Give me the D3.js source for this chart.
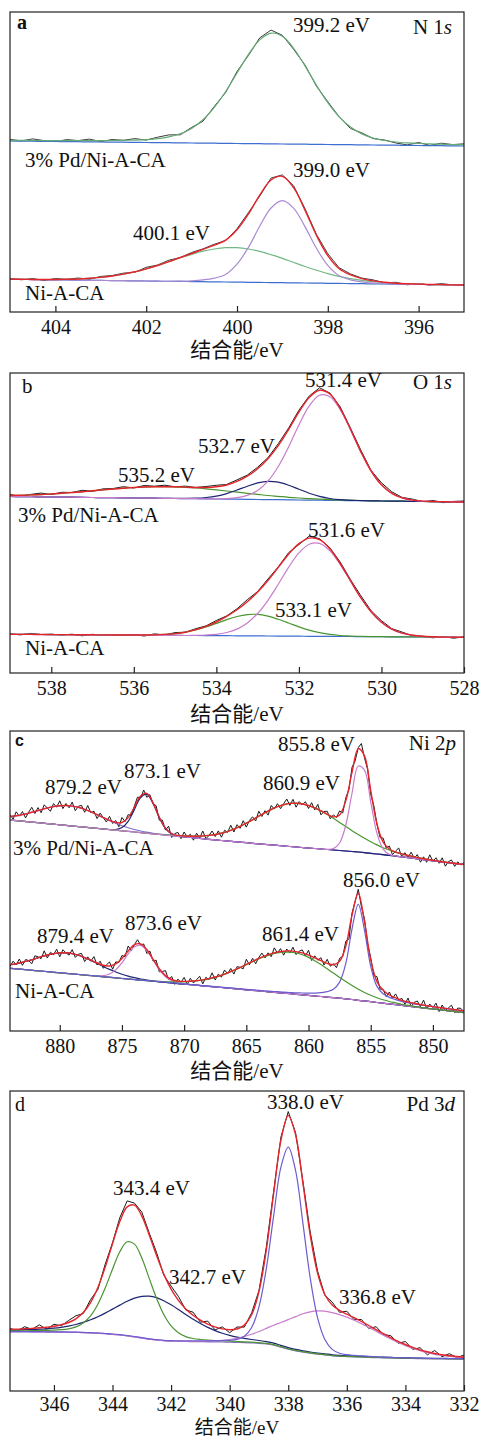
<!DOCTYPE html>
<html>
<head>
<meta charset="utf-8">
<script src="https://cdn.jsdelivr.net/npm/d3@7"></script>
<style>
  body { margin: 0; background: #fff; }
  svg { display: block; }
  text { font-family: "Liberation Serif", "Times New Roman", "Noto Sans CJK SC", serif; fill: #111; }
</style>
</head>
<body>
<svg id="chart" width="483" height="1438"></svg>
<script>
// ---------------- N 1s (0.25 eV steps, 405 -> 395 eV) ----------------
const nE = d3.range(41).map(i => 405 - i * 0.25);
const nTicks = [404, 402, 400, 398, 396];
const nPdPeaks = [399.2];
const nNiPeaks = [399.0, 400.1];
const nPdBg = [171.0,170.9,170.8,170.6,170.5,170.4,170.3,170.1,170.0,169.9,169.8,169.6,169.5,169.4,169.3,169.1,169.0,168.9,168.8,168.6,168.5,168.4,168.3,168.1,168.0,167.9,167.8,167.6,167.5,167.4,167.3,167.1,167.0,166.9,166.8,166.6,166.5,166.4,166.3,166.1,166.0];
const nPd399 = [0.6,0.7,0.8,0.8,0.9,1.0,1.1,1.3,1.4,1.6,1.9,2.3,2.9,3.9,5.8,9.1,14.6,23.3,35.8,51.9,70.5,89.0,103.8,110.8,107.7,95.6,78.1,59.2,41.8,27.8,17.7,11.0,6.9,4.6,3.2,2.5,2.0,1.7,1.5,1.3,1.2];
const nPdRaw = [172.6,171.1,173.1,171.4,170.4,172.4,171.4,172.9,170.4,172.5,171.7,173.4,171.9,174.8,177.1,177.2,184.6,190.7,205.6,219.5,240.5,256.4,274.1,281.9,276.7,262.5,246.9,225.8,210.3,195.2,183.5,179.1,173.4,172.0,169.0,167.1,169.5,166.6,168.8,167.4,168.2];
const nNiBg = [32.7,32.6,32.4,32.3,32.1,32.0,31.8,31.7,31.6,31.4,31.3,31.1,31.0,30.8,30.7,30.6,30.4,30.3,30.1,30.0,29.9,29.7,29.6,29.4,29.3,29.1,29.0,28.9,28.7,28.6,28.4,28.3,28.1,28.0,27.9,27.7,27.6,27.4,27.3,27.1,27.0];
const nNi399 = [0,0,0,0,0,0,0,0,0,0,0,0,0,0,0,0.3,0.8,1.8,3.8,7.6,17.9,34.8,56.1,74.6,82,74.6,56.1,34.8,17.9,7.6,3.8,1.8,0.8,0.3,0,0,0,0,0,0,0];
const nNi400 = [0,0.1,0.1,0.2,0.4,0.7,1.2,2.0,3.0,4.6,6.6,9.1,12.2,15.7,19.6,23.6,27.3,30.5,32.9,34.3,34.4,33.3,31.1,28.0,24.3,20.4,16.5,12.9,9.7,7.0,4.9,3.3,2.2,1.4,0.8,0.5,0.3,0.1,0.1,0,0];
const nNiRaw = [33.7,32.2,33.5,31.5,33.5,32.7,34.0,32.7,35.6,36.5,38.9,39.7,44.7,47.0,51.8,54.5,59.5,63.1,67.8,71.4,83.2,99.3,115.8,134.0,137.1,126.1,103.1,77.6,58.3,44.2,38.1,33.9,32.1,29.2,29.7,27.2,28.4,27.0,28.4,27.1,27.5];

// ---------------- O 1s (0.25 eV steps, 539 -> 528 eV) ----------------
const oE = d3.range(45).map(i => 539 - i * 0.25);
const oTicks = [538, 536, 534, 532, 530, 528];
const oPdPeaks = [531.4, 532.7, 535.2];
const oNiPeaks = [531.6, 533.1];
const oPdBg = [176.5,176.4,176.3,176.1,176.0,175.9,175.8,175.6,175.5,175.4,175.3,175.1,175.0,174.9,174.8,174.6,174.5,174.4,174.3,174.1,174.0,173.9,173.8,173.6,173.5,173.4,173.3,173.1,173.0,172.9,172.8,172.6,172.5,172.4,172.3,172.1,172.0,171.9,171.8,171.6,171.5,171.4,171.3,171.1,171.0];
const oPd531 = [0,0,0,0,0,0,0,0,0,0,0,0,0,0,0,0,0,0,0,0,0.2,0.5,1.5,4.0,9.1,18.5,33.2,53,75.0,94.2,105.0,103.7,90.9,70.7,48.8,29.8,16.2,7.8,3.3,1.3,0.4,0.1,0,0,0];
const oPd532 = [0,0,0,0,0,0,0,0,0,0,0,0,0,0,0,0,0.1,0.2,0.5,1.4,2.9,5.5,9.2,13.2,16.6,18.3,17.5,14.7,10.8,6.9,3.8,1.9,0.8,0.3,0.1,0,0,0,0,0,0,0,0,0,0];
const oPd535 = [1.0,1.3,1.8,2.3,3.0,3.8,4.7,5.6,6.7,7.7,8.7,9.7,10.5,11.1,11.5,11.7,11.6,11.3,10.7,10.0,9.1,8.1,7.1,6.1,5.1,4.1,3.3,2.6,2.0,1.5,1.1,0.8,0.5,0.4,0.2,0.1,0,0,0,0,0,0,0,0,0];
const oPdRaw = [178.5,176.7,178.6,179.9,178.5,180.7,180.5,182.7,181.7,184.1,184.5,186.3,185.0,187.5,186.8,187.8,186.2,186.9,185.5,186.5,187.7,188.5,193.1,197.9,205.8,215.3,229.3,244.9,262.8,277.0,285.2,280.0,266.2,244.8,222.9,202.5,190.2,181.2,175.6,173.9,171.4,172.5,170.3,171.6,172.0];
const oNiBg = [38.7,38.6,38.6,38.5,38.4,38.4,38.3,38.2,38.2,38.1,38.0,38.0,37.9,37.8,37.7,37.7,37.6,37.5,37.5,37.4,37.3,37.3,37.2,37.1,37.1,37.0,36.9,36.9,36.8,36.7,36.7,36.6,36.5,36.5,36.4,36.3,36.3,36.2,36.1,36.1,36.0,35.9,35.8,35.8,35.7];
const oNi531 = [0,0,0,0,0,0,0,0,0,0,0,0,0,0,0,0,0,0,0.2,0.6,1.4,3.2,6.7,12.9,22.4,35.7,51.9,68.8,83.3,92.1,92.9,85.6,72.0,55.3,38.7,24.8,14.5,7.7,3.8,1.7,0.7,0.3,0.1,0,0];
const oNi533 = [0,0,0,0,0,0,0,0,0,0,0,0,0.1,0.2,0.4,0.9,1.8,3.3,5.6,8.6,12.3,16.1,19.3,21.3,21.5,19.8,16.8,13.1,9.3,6.1,3.7,2.0,1.0,0.5,0.2,0.1,0,0,0,0,0,0,0,0,0];
const oNiRaw = [39.2,38.1,39.6,38.5,38.9,37.9,38.8,37.2,38.7,37.6,38.5,37.5,38.5,37.0,39.1,38.1,40.4,40.8,44.3,47.1,52.5,57.1,64.2,73.3,81.5,94.0,106.1,120.3,128.4,136.9,134.3,125.2,111.0,93.3,77.3,62.2,52.3,44.4,40.9,37.3,36.7,35.2,36.4,34.8,36.2];

// ---------------- Ni 2p (fit: 0.5 eV steps, raw: 0.25 eV steps, 884 -> 847.5 eV) ----------------
const niE = d3.range(74).map(i => 884 - i * 0.5);
const niRawE = d3.range(147).map(i => 884 - i * 0.25);
const niTicks = [880, 875, 870, 865, 860, 855, 850];
const niPdPeaks = [855.8, 860.9, 873.1, 879.2];
const niNiPeaks = [856.0, 861.4, 873.6, 879.4];
const niPdBg = [211.0,210.4,209.8,209.2,208.6,208.0,207.4,206.8,206.2,205.6,205.0,204.4,203.8,203.2,202.6,202.0,201.4,200.8,200.2,199.6,199.0,198.4,197.8,197.1,196.5,195.9,195.3,194.7,194.1,193.5,192.9,192.3,191.7,191.1,190.5,189.9,189.4,188.8,188.3,187.7,187.2,186.6,186.1,185.6,185.0,184.5,184.0,183.5,183.0,182.5,182.0,181.5,181.0,180.5,180.0,179.5,179.0,178.4,177.7,177.0,176.3,175.6,174.9,174.2,173.4,172.6,171.8,171.0,170.2,169.4,168.6,167.9,167.2,166.5];
const niPd879 = [3.4,4.8,6.6,8.6,10.9,13.3,15.6,17.6,19.0,19.9,19.9,19.3,17.9,16.0,13.8,11.4,9.1,7.0,5.1,3.7,2.5,1.6,1.0,0.6,0.4,0.2,0.1,0,0,0,0,0,0,0,0,0,0,0,0,0,0,0,0,0,0,0,0,0,0,0,0,0,0,0,0,0,0,0,0,0,0,0,0,0,0,0,0,0,0,0,0,0,0,0];
const niPd873 = [0,0,0,0,0,0,0,0,0,0,0,0,0,0,0,0,0.1,0.7,3.2,10.1,22.4,35.1,38.9,30.5,16.9,6.6,1.8,0.4,0.1,0,0,0,0,0,0,0,0,0,0,0,0,0,0,0,0,0,0,0,0,0,0,0,0,0,0,0,0,0,0,0,0,0,0,0,0,0,0,0,0,0,0,0,0,0];
const niPd861 = [0,0,0,0,0,0,0,0,0,0,0,0,0,0,0,0,0,0,0,0,0,0,0,0,0.1,0.2,0.3,0.5,0.8,1.3,1.9,2.7,3.9,5.4,7.3,9.7,12.6,15.9,19.6,23.5,27.6,31.7,35.4,38.7,41.3,43.1,43.8,43.5,42.5,40.6,38.1,35.1,31.7,28.1,24.4,20.8,17.4,14.3,11.5,9.1,7.0,5.4,4.0,2.9,2.1,1.5,1.0,0.7,0.5,0.3,0.2,0.1,0,0];
const niPd856 = [0,0,0,0,0,0,0,0,0,0,0,0,0,0,0,0,0,0,0,0,0,0,0,0,0,0,0,0,0,0,0,0,0,0,0,0,0,0,0,0,0,0,0,0,0,0,0,0,0,0,0,0.2,1.4,7.5,26.0,58.5,86.0,82.4,51.5,20.9,5.6,1.0,0.1,0,0,0,0,0,0,0,0,0,0,0];
const niPdRaw = [216.4,211.8,219.2,214.8,219.4,213.1,218.8,223.7,217.5,223.4,
  218.3,226.2,223.0,219.7,227.4,223.8,230.2,222.4,227.5,223.2,
  228.9,220.3,224.7,225.7,218.7,225.5,218.2,219.8,212.4,217.9,
  213.4,209.0,214.6,207.5,210.5,204.2,213.5,209.5,216.4,215.3,
  224.9,233.9,233.1,241.0,233.7,236.3,227.2,225.3,210.9,210.9,
  200.9,204.8,193.5,197.4,198.6,192.3,199.0,193.9,196.8,190.8,
  197.8,192.9,200.0,192.3,195.6,200.0,194.5,200.1,193.8,200.7,
  198.6,205.8,199.0,206.3,202.7,210.3,203.9,210.5,214.2,210.0,
  219.8,214.5,220.3,215.9,225.5,221.9,227.3,222.3,227.3,232.0,
  225.6,231.7,223.8,229.4,226.0,229.3,222.5,228.3,221.1,226.6,
  216.1,219.5,219.8,212.3,216.1,213.6,220.1,218.0,233.4,241.4,
  263.8,270.1,283.4,287.5,273.1,261.7,236.7,225.3,207.0,193.5,
  192.9,182.8,185.0,176.3,180.0,183.0,174.1,178.3,173.5,178.8,
  173.1,176.4,168.8,174.2,168.7,176.2,169.7,173.2,167.7,173.2,
  164.8,169.4,171.0,164.6,169.2,165.9,168.5];
const niNiBg = [62.7,62.1,61.6,61.0,60.4,59.9,59.3,58.7,58.2,57.6,57.1,56.5,55.9,55.4,54.8,54.2,53.7,53.1,52.5,52.0,51.4,50.8,50.3,49.7,49.1,48.6,48.0,47.4,46.9,46.3,45.8,45.2,44.6,44.1,43.5,42.9,42.4,41.8,41.2,40.7,40.1,39.5,39.0,38.4,37.8,37.3,36.7,36.2,35.6,35.0,34.5,33.9,33.3,32.8,32.2,31.5,30.7,30.0,29.3,28.5,27.8,27.1,26.4,25.6,24.9,24.2,23.4,22.7,22.0,21.3,20.5,19.8,19.1,18.3];
const niNi879 = [3.6,5.1,7.0,9.3,11.7,14.3,16.6,18.5,19.9,20.5,20.2,19.2,17.4,15.2,12.8,10.3,7.9,5.9,4.2,2.8,1.9,1.2,0.7,0.4,0.2,0.1,0,0,0,0,0,0,0,0,0,0,0,0,0,0,0,0,0,0,0,0,0,0,0,0,0,0,0,0,0,0,0,0,0,0,0,0,0,0,0,0,0,0,0,0,0,0,0,0];
const niNi874 = [0,0,0,0,0,0,0,0,0,0,0,0,0,0.1,0.3,1.1,3.3,8.0,15.7,25.1,32.8,34.9,30.2,21.3,12.2,5.7,2.2,0.7,0.2,0,0,0,0,0,0,0,0,0,0,0,0,0,0,0,0,0,0,0,0,0,0,0,0,0,0,0,0,0,0,0,0,0,0,0,0,0,0,0,0,0,0,0,0,0];
const niNi861 = [0,0,0,0,0,0,0,0,0,0,0,0,0,0,0,0,0,0,0,0,0.1,0.1,0.2,0.3,0.5,0.8,1.1,1.6,2.3,3.2,4.3,5.7,7.5,9.6,12.1,15.0,18.1,21.5,25.0,28.5,31.9,35.0,37.6,39.7,41.0,41.6,41.3,40.1,38.0,35.3,32.0,28.4,24.6,20.8,17.2,13.9,11.0,8.5,6.4,4.8,3.4,2.4,1.7,1.1,0.7,0.5,0.3,0.2,0.1,0,0,0,0,0];
const niNi856 = [0.1,0.1,0.1,0.1,0.1,0.1,0.1,0.1,0.1,0.1,0.1,0.1,0.1,0.1,0.1,0.1,0.1,0.1,0.1,0.1,0.1,0.1,0.1,0.1,0.2,0.2,0.2,0.2,0.2,0.2,0.2,0.2,0.3,0.3,0.3,0.3,0.4,0.4,0.5,0.5,0.6,0.6,0.7,0.9,1.0,1.2,1.4,1.8,2.2,2.9,3.8,5.4,8.4,16.1,35.5,70.7,96,70.7,35.5,16.1,9.5,6.5,5.0,4.0,3.4,3.0,2.7,2.5,2.3,2.2,2.1,2.0,1.9,1.8];
const niNiRaw = [64.4,69.8,66.3,72.0,65.7,71.5,70.4,67.3,75.2,74.2,
  72.3,80.2,73.0,78.7,76.3,81.8,74.2,81.3,78.2,75.9,
  81.4,73.6,76.8,77.6,69.4,74.1,69.8,74.4,66.0,69.8,
  62.7,66.1,69.0,61.8,69.1,68.5,75.5,74.2,85.0,80.5,
  86.3,91.3,86.1,87.0,77.5,79.9,69.8,70.8,59.2,59.5,
  60.4,51.2,54.5,46.6,51.9,48.7,53.6,46.6,52.7,48.0,
  51.3,54.7,47.1,53.7,51.4,58.2,51.0,56.9,53.9,61.0,
  57.2,62.5,56.9,64.3,63.7,62.2,71.7,66.2,72.7,67.2,
  73.6,77.9,73.1,78.2,74.3,83.2,78.0,82.4,75.8,82.0,
  78.1,83.8,76.4,79.8,81.1,75.0,80.8,70.5,75.2,70.8,
  73.3,66.0,71.7,64.8,67.3,63.3,72.7,74.5,89.9,92.0,
  118.1,129.7,141.7,124.4,112.2,87.6,73.2,55.3,54.4,42.0,
  41.7,34.3,39.0,32.5,37.1,30.9,32.7,26.8,33.0,24.3,
  28.7,30.0,24.4,30.9,22.4,26.9,23.4,27.9,19.5,26.0,
  20.6,23.2,25.8,18.4,23.0,22.6,19.1];

// ---------------- Pd 3d (0.25 eV steps, 347.5 -> 332 eV) ----------------
const pdE = d3.range(63).map(i => 347.5 - i * 0.25);
const pdTicks = [346, 344, 342, 340, 338, 336, 334, 332];
const pdPeaks = [338.0, 336.8, 343.4, 342.7];
const pdBg = [59.3,59.3,59.3,59.2,59.2,59.1,59.0,58.9,58.8,58.6,58.4,58.1,57.8,57.3,56.7,56.0,55.2,54.2,53.0,51.8,51.0,50.3,49.9,49.7,49.5,49.4,49.3,49.2,49.1,49.0,48.8,48.6,48.4,48.1,47.7,47.0,45.8,43.8,41.8,40.2,38.9,37.8,36.9,36.1,35.2,34.7,34.4,34.1,33.9,33.6,33.4,33.2,33.0,32.8,32.6,32.5,32.4,32.3,32.2,32.2,32.1,32.1,32.0];
const pd343 = [0.7,0.8,0.9,1.1,1.3,1.5,1.8,2.4,3.4,5.5,9.6,17.0,29.0,45.7,65.1,83.2,94.0,92.7,80.0,61.1,42.0,26.2,15.2,8.6,4.9,3.1,2.2,1.7,1.4,1.2,1.1,0.9,0.8,0.7,0.6,0.6,0.5,0.5,0.4,0.4,0.4,0.3,0.3,0.3,0.3,0.3,0.2,0.2,0.2,0.2,0.2,0.2,0.2,0.2,0.2,0.1,0.1,0.1,0.1,0.1,0.1,0.1,0.1];
const pd342 = [1.6,1.7,2.0,2.2,2.6,3.1,3.8,4.8,6.1,7.9,10.2,13.1,16.5,20.6,25.2,29.9,34.6,38.7,41.6,43.0,42.4,40.0,36.3,31.8,27.0,22.4,18.1,14.4,11.3,8.7,6.8,5.3,4.2,3.4,2.8,2.4,2.1,1.8,1.6,1.4,1.3,1.2,1.1,1.0,1.0,0.9,0.8,0.8,0.7,0.7,0.6,0.6,0.6,0.5,0.5,0.5,0.4,0.4,0.4,0.4,0.4,0.3,0.3];
const pd338 = [0.1,0.1,0.1,0.1,0.1,0.1,0.1,0.2,0.2,0.2,0.2,0.2,0.2,0.2,0.3,0.3,0.3,0.3,0.3,0.4,0.4,0.4,0.5,0.5,0.6,0.7,0.8,1.0,1.2,1.5,1.9,3.1,6.4,15.4,36.5,75.2,129.0,180.1,202,180.1,129.0,75.2,36.5,15.4,6.4,3.1,1.9,1.5,1.2,1.0,0.8,0.7,0.6,0.5,0.5,0.4,0.4,0.4,0.3,0.3,0.3,0.3,0.2];
const pd337 = [0,0,0,0,0,0,0,0,0,0,0,0,0,0,0,0,0,0,0,0,0,0,0,0,0.1,0.2,0.4,0.6,1.1,1.7,2.7,4.1,6.1,8.6,11.8,15.6,20.0,24.7,29.6,34.2,38.3,41.4,43.2,43.7,43.1,41.7,39.5,36.7,33.5,30.0,26.3,22.6,19.0,15.7,12.7,10.1,7.9,6.0,4.5,3.3,2.4,1.7,1.2];
const pdRaw = [62.7,59.9,64.3,61.6,66.2,61.8,66.7,65.2,70.5,75.2,
  77.4,91.4,101.5,126.8,148.3,173.4,190.1,187.9,178.9,158.3,
  138.8,115.9,104.9,94.6,81.1,78.8,68.8,69.9,61.1,64.1,
  58.3,64.0,63.9,78.2,100.4,143.8,199.4,253.9,279.4,258.3,
  209.9,158.9,120.0,95.5,89.0,78.7,79.8,71.3,71.5,62.5,
  64.3,56.3,55.4,47.7,49.5,41.6,43.3,36.2,40.5,34.3,
  37.3,33.6,35.8];

// ---------------- colours ----------------
const RED = "#e4262c", BLUE = "#3e6ed0", NAVY = "#1e2472", GREEN = "#4b9530",
      ORCHID = "#c87ccc", VIOLET = "#6c5ccf", LILAC = "#a98bd2", SEA = "#63aa74", RAW = "#1a1a1a";

const fmt = v => v.toFixed(1) + " eV";

// ---------------- panel layout ----------------
const panels = [
  {
    id: "a", top: 12, domain: [405, 395], ticks: nTicks, tickPad: 8, titleDy: 45, titleSize: 21,
    letter: { t: "a", x: 17, y: 29, size: 20, weight: "bold", family: null },
    core: ["N 1", "s"], coreX: 452, coreY: 34,
    spectra: [
      { E: nE, bg: nPdBg, bgColor: BLUE, comps: [{ v: nPd399, c: SEA }], envelope: false,
        rawE: nE, raw: nPdRaw, rawColor: "#3c3c3c" },
      { E: nE, bg: nNiBg, bgColor: BLUE, comps: [{ v: nNi400, c: "#72b884" }, { v: nNi399, c: LILAC }], envelope: true,
        rawE: nE, raw: nNiRaw, rawColor: "#3c3c3c" }
    ],
    peakLabels: [
      { v: nPdPeaks[0], x: 293, y: 32 },
      { v: nNiPeaks[0], x: 293, y: 177 },
      { v: nNiPeaks[1], x: 133, y: 240 }
    ],
    names: [{ t: "3% Pd/Ni-A-CA", x: 25, y: 167 }, { t: "Ni-A-CA", x: 25, y: 300 }]
  },
  {
    id: "b", top: 373, domain: [539, 528], ticks: oTicks, tickPad: 8, titleDy: 48, titleSize: 21,
    letter: { t: "b", x: 22, y: 393, size: 21, weight: "normal", family: null },
    core: ["O 1", "s"], coreX: 452, coreY: 389,
    spectra: [
      { E: oE, bg: oPdBg, bgColor: BLUE, comps: [{ v: oPd535, c: GREEN }, { v: oPd532, c: NAVY }, { v: oPd531, c: ORCHID }], envelope: true,
        rawE: oE, raw: oPdRaw, rawColor: RAW },
      { E: oE, bg: oNiBg, bgColor: BLUE, comps: [{ v: oNi533, c: GREEN }, { v: oNi531, c: ORCHID }], envelope: true,
        rawE: oE, raw: oNiRaw, rawColor: RAW }
    ],
    peakLabels: [
      { v: oPdPeaks[0], x: 305, y: 387 },
      { v: oPdPeaks[1], x: 198, y: 453 },
      { v: oPdPeaks[2], x: 118, y: 482 },
      { v: oNiPeaks[0], x: 308, y: 537 },
      { v: oNiPeaks[1], x: 275, y: 617 }
    ],
    names: [{ t: "3% Pd/Ni-A-CA", x: 18, y: 522 }, { t: "Ni-A-CA", x: 25, y: 655 }]
  },
  {
    id: "c", top: 731, domain: [884, 847.5], ticks: niTicks, tickPad: 8, titleDy: 47, titleSize: 21,
    letter: { t: "c", x: 15, y: 746, size: 16, weight: "bold", family: "Liberation Sans, Arial, sans-serif" },
    core: ["Ni 2", "p"], coreX: 456, coreY: 750,
    spectra: [
      { E: niE, bg: niPdBg, bgColor: "#7c6cc9", comps: [{ v: niPd879, c: "#7c6cc9" }, { v: niPd873, c: NAVY }, { v: niPd861, c: GREEN }, { v: niPd856, c: ORCHID }], envelope: true,
        rawE: niRawE, raw: niPdRaw, rawColor: RAW },
      { E: niE, bg: niNiBg, bgColor: NAVY, comps: [{ v: niNi879, c: NAVY }, { v: niNi874, c: ORCHID }, { v: niNi861, c: GREEN }, { v: niNi856, c: VIOLET }], envelope: true,
        rawE: niRawE, raw: niNiRaw, rawColor: RAW }
    ],
    peakLabels: [
      { v: niPdPeaks[0], x: 278, y: 751 },
      { v: niPdPeaks[1], x: 263, y: 790 },
      { v: niPdPeaks[2], x: 124, y: 778 },
      { v: niPdPeaks[3], x: 45, y: 794 },
      { v: niNiPeaks[0], x: 343, y: 887 },
      { v: niNiPeaks[1], x: 262, y: 941 },
      { v: niNiPeaks[2], x: 125, y: 930 },
      { v: niNiPeaks[3], x: 37, y: 943 }
    ],
    names: [{ t: "3% Pd/Ni-A-CA", x: 13, y: 855 }, { t: "Ni-A-CA", x: 15, y: 998 }]
  },
  {
    id: "d", top: 1091, domain: [347.5, 332], ticks: pdTicks, tickPad: 6, titleDy: 43, titleSize: 19,
    letter: { t: "d", x: 15, y: 1111, size: 20, weight: "normal", family: null },
    core: ["Pd 3", "d"], coreX: 455, coreY: 1111,
    spectra: [
      { E: pdE, bg: pdBg, bgColor: "#8a6fc8", comps: [{ v: pd342, c: NAVY }, { v: pd343, c: GREEN }, { v: pd337, c: ORCHID }, { v: pd338, c: VIOLET }], envelope: true,
        rawE: pdE, raw: pdRaw, rawColor: RAW }
    ],
    peakLabels: [
      { v: pdPeaks[0], x: 267, y: 1109 },
      { v: pdPeaks[1], x: 339, y: 1304 },
      { v: pdPeaks[2], x: 113, y: 1195 },
      { v: pdPeaks[3], x: 169, y: 1284 }
    ],
    names: []
  }
];

// ---------------- drawing ----------------
const svg = d3.select("#chart");
const X0 = 10, X1 = 464, H = 300;

panels.forEach(p => {
  const x = d3.scaleLinear().domain(p.domain).range([X0, X1]);
  const y = d3.scaleLinear().domain([0, H]).range([p.top + H, p.top]);
  const g = svg.append("g");

  const clipId = "clip-" + p.id;
  g.append("clipPath").attr("id", clipId)
    .append("rect").attr("x", X0).attr("y", p.top).attr("width", X1 - X0).attr("height", H);
  const plot = g.append("g").attr("clip-path", `url(#${clipId})`);

  const smooth = d3.line().x(d => x(d[0])).y(d => y(d[1])).curve(d3.curveCatmullRom.alpha(0.5));
  const jagged = d3.line().x(d => x(d[0])).y(d => y(d[1]));

  p.spectra.forEach(s => {
    // measured counts
    plot.append("path")
      .attr("d", jagged(s.rawE.map((e, i) => [e, s.raw[i]])))
      .attr("fill", "none").attr("stroke", s.rawColor).attr("stroke-width", 1);
    // background
    plot.append("path")
      .attr("d", smooth(s.E.map((e, i) => [e, s.bg[i]])))
      .attr("fill", "none").attr("stroke", s.bgColor).attr("stroke-width", 1.2);
    // fitted components, each sitting on the background
    s.comps.forEach(c => {
      plot.append("path")
        .attr("d", smooth(s.E.map((e, i) => [e, s.bg[i] + c.v[i]])))
        .attr("fill", "none").attr("stroke", c.c).attr("stroke-width", 1.2);
    });
    // overall fit = background + sum of components
    if (s.envelope) {
      const env = s.E.map((e, i) => [e, s.bg[i] + d3.sum(s.comps, c => c.v[i])]);
      plot.append("path")
        .attr("d", smooth(env))
        .attr("fill", "none").attr("stroke", RED).attr("stroke-width", 1.4);
    }
  });

  // frame
  g.append("rect")
    .attr("x", X0).attr("y", p.top).attr("width", X1 - X0).attr("height", H)
    .attr("fill", "none").attr("stroke", "#222").attr("stroke-width", 1.2);

  // bottom axis with inward ticks
  const axis = d3.axisBottom(x).tickValues(p.ticks).tickSize(-6).tickSizeOuter(0).tickPadding(p.tickPad).tickFormat(d3.format("d"));
  const ag = g.append("g").attr("transform", `translate(0,${p.top + H})`).call(axis);
  ag.select(".domain").remove();
  ag.selectAll(".tick line").attr("stroke", "#222").attr("stroke-width", 1.2);
  ag.selectAll(".tick text")
    .attr("font-family", "Liberation Serif, Times New Roman, serif")
    .attr("font-size", 20).attr("fill", "#111");

  // axis title
  g.append("text")
    .attr("x", (X0 + X1) / 2).attr("y", p.top + H + p.titleDy)
    .attr("text-anchor", "middle").attr("font-size", p.titleSize)
    .text("结合能/eV");

  // panel letter
  const L = p.letter;
  const lt = g.append("text").attr("x", L.x).attr("y", L.y)
    .attr("font-size", L.size).attr("font-weight", L.weight).text(L.t);
  if (L.family) lt.style("font-family", L.family);

  // core level label with italic orbital letter
  const ct = g.append("text").attr("x", p.coreX).attr("y", p.coreY)
    .attr("text-anchor", "end").attr("font-size", 21);
  ct.append("tspan").text(p.core[0]);
  ct.append("tspan").attr("font-style", "italic").text(p.core[1]);

  // binding energy labels
  p.peakLabels.forEach(l => {
    g.append("text").attr("x", l.x).attr("y", l.y).attr("font-size", 21).text(fmt(l.v));
  });

  // sample names
  p.names.forEach(n => {
    g.append("text").attr("x", n.x).attr("y", n.y).attr("font-size", 21).text(n.t);
  });
});
</script>
</body>
</html>
